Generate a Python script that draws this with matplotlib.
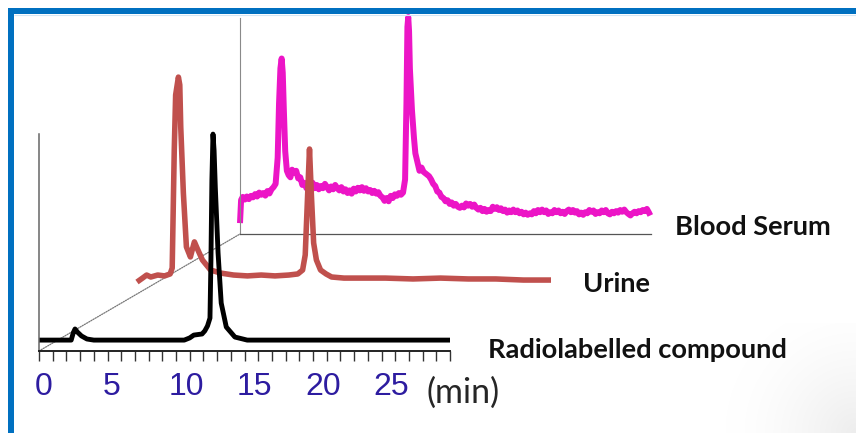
import numpy as np
import matplotlib
matplotlib.use("Agg")
import matplotlib.pyplot as plt
from matplotlib.patches import ConnectionPatch
from matplotlib.lines import Line2D
from matplotlib.transforms import blended_transform_factory, offset_copy

# ---------------- data (time in min, signal in arbitrary units) ----------------
t_cmp = [0, 2.35, 2.5, 2.63, 2.8, 3.1, 3.5, 4.0, 10.6, 11.0, 11.3, 11.9, 12.1, 12.3,
         12.48, 12.55, 12.62, 12.7, 12.78, 12.87, 13.07, 13.3, 13.67, 14.3, 15.2, 30]
v_cmp = [5.0, 5.0, 8.3, 10.1, 8.7, 6.9, 5.5, 5.0, 5.0, 6.0, 7.3, 7.8, 9.2, 11.5,
         15.1, 41.7, 78.4, 99.5, 92.0, 75.0, 45.0, 22.0, 11.0, 6.4, 5.0, 5.0]

t_uri = [0, 0.4, 0.7, 1.0, 1.5, 2.0, 2.4, 2.55, 2.7, 2.8, 3.0, 3.1, 3.17, 3.36, 3.58,
         3.87, 4.0, 4.16, 4.35, 4.74, 5.33, 6.06, 7.0, 8.0, 9.0, 10.0, 11.0, 11.65,
         12.0, 12.19, 12.37, 12.5, 12.63, 12.8, 13.0, 13.3, 13.7, 14.1, 15.0, 16.0,
         18.0, 20.0, 22.0, 24.0, 26.0, 28.0, 30.0]
v_uri = [5.5, 7.3, 8.7, 7.8, 8.7, 8.3, 9.2, 11.9, 66.1, 91.3, 99.5, 95.9, 76.6, 46.3,
         21.6, 17.0, 20.2, 23.9, 21.1, 15.6, 11.0, 9.6, 8.7, 8.3, 8.7, 8.3, 8.7, 9.2,
         11.0, 17.9, 46.3, 66.5, 46.3, 23.4, 15.6, 11.0, 9.2, 7.8, 7.3, 7.3, 7.3, 6.9,
         7.3, 6.9, 6.9, 6.4, 6.4]

t_ser = [0, 0.08, 0.2, 0.35, 0.5, 0.65, 0.8, 0.95, 1.1, 1.25, 1.4, 1.55, 1.7, 1.85,
         2.0, 2.15, 2.3, 2.45, 2.6, 2.75, 2.85, 2.95, 3.04, 3.12, 3.2, 3.3, 3.42, 3.55,
         3.68, 3.8, 3.95, 4.1, 4.25, 4.4, 4.55, 4.7, 4.85, 5.0, 5.15, 5.3, 5.45, 5.6,
         5.75, 5.9, 6.05, 6.2, 6.35, 6.5, 6.65, 6.8, 6.95, 7.1, 7.25, 7.4, 7.55, 7.7,
         7.85, 8.0, 8.15, 8.3, 8.45, 8.6, 8.75, 8.9, 9.05, 9.2, 9.35, 9.5, 9.65, 9.8,
         9.95, 10.1, 10.25, 10.4, 10.55, 10.7, 10.85, 11.0, 11.15, 11.3, 11.45, 11.6,
         11.75, 11.9, 12.05, 12.15, 12.22, 12.28, 12.34, 12.4, 12.55, 12.7, 12.8,
         12.95, 13.1, 13.25, 13.4, 13.6, 13.8, 13.95, 14.1, 14.25, 14.4, 14.55, 14.7,
         14.85, 15.0, 15.15, 15.3, 15.45, 15.6, 15.75, 15.9, 16.05, 16.2, 16.35, 16.5,
         16.65, 16.8, 16.95, 17.1, 17.25, 17.4, 17.55, 17.7, 17.85, 18.0, 18.15, 18.3,
         18.45, 18.6, 18.75, 18.9, 19.05, 19.2, 19.35, 19.5, 19.65, 19.8, 19.95, 20.1,
         20.25, 20.4, 20.55, 20.7, 20.85, 21.0, 21.15, 21.3, 21.45, 21.6, 21.75, 21.9,
         22.05, 22.2, 22.35, 22.5, 22.65, 22.8, 22.95, 23.1, 23.25, 23.4, 23.55, 23.7,
         23.85, 24.0, 24.15, 24.3, 24.45, 24.6, 24.75, 24.9, 25.05, 25.2, 25.35, 25.5,
         25.65, 25.8, 25.95, 26.1, 26.25, 26.4, 26.55, 26.7, 26.85, 27.0, 27.15, 27.3,
         27.45, 27.6, 27.75, 27.9, 28.05, 28.2, 28.35, 28.5, 28.65, 28.8, 28.95, 29.1,
         29.25, 29.4, 29.55, 29.7, 29.85, 29.95]
v_ser = [5.0, 15.6, 17.0, 15.8, 17.2, 16.0, 17.5, 16.8, 18.3, 17.2, 19.0, 18.0, 18.8,
         17.6, 19.7, 18.6, 20.5, 21.5, 23.0, 35.0, 60.0, 76.0, 80.5, 74.0, 57.0, 38.0,
         29.0, 27.0, 26.0, 29.5, 28.0, 29.0, 25.5, 26.0, 22.5, 23.5, 21.0, 22.8, 21.5,
         23.5, 21.0, 22.5, 20.5, 22.0, 21.0, 23.0, 21.5, 20.0, 21.8, 20.5, 22.5, 21.0,
         20.0, 21.5, 19.5, 20.5, 18.8, 20.0, 18.5, 20.8, 19.5, 21.2, 20.0, 21.5, 19.8,
         21.0, 19.5, 20.2, 18.8, 19.8, 18.5, 19.2, 17.5, 16.8, 15.2, 16.5, 15.0, 17.5,
         16.5, 18.2, 17.5, 18.8, 18.0, 19.0, 25.0, 60.0, 95.0, 99.5, 93.0, 76.0, 57.0,
         44.0, 37.0, 33.0, 29.0, 30.5, 28.5, 27.5, 26.5, 25.0, 23.0, 22.0, 19.5, 19.0,
         17.0, 16.5, 15.0, 15.5, 13.8, 14.5, 13.0, 13.8, 12.5, 12.0, 13.0, 12.2, 14.0,
         13.0, 13.8, 12.5, 13.5, 12.0, 11.2, 12.0, 10.5, 11.5, 10.2, 11.0, 10.5, 12.5,
         11.5, 12.3, 11.0, 11.8, 10.5, 11.2, 9.8, 10.8, 10.0, 11.2, 10.0, 10.8, 9.5,
         10.2, 9.0, 9.8, 8.8, 9.5, 9.0, 10.5, 9.5, 11.0, 10.0, 11.2, 10.0, 10.8, 9.2,
         10.0, 9.5, 11.0, 10.0, 10.8, 9.5, 10.2, 9.2, 10.5, 11.2, 10.0, 11.0, 9.8, 10.5,
         9.0, 9.8, 8.8, 10.0, 9.5, 11.0, 10.2, 10.8, 9.2, 10.0, 9.5, 10.8, 10.0, 11.0,
         9.5, 9.0, 10.2, 9.5, 10.5, 9.8, 11.0, 10.2, 11.2, 10.0, 9.2, 8.5, 9.5, 10.2,
         9.5, 10.5, 10.0, 11.0, 10.5, 11.5, 9.8, 8.5]

tick_major = [0, 5, 10, 15, 20, 25, 30]
tick_labels = ["0", "5", "10", "15", "20", "25"]
trace_names = ["Radiolabelled compound", "Urine", "Blood Serum"]

# ---------------- figure ----------------
W, H = 856, 433
fig = plt.figure(figsize=(W / 100, H / 100), dpi=100)
fig.patch.set_facecolor("white")
PXU = 2.18  # pixels per signal unit

# faint slide shadow in the lower-right corner
gw, gh = 140, 110
gx, gy = np.meshgrid(np.arange(gw), np.arange(gh))
dist = np.hypot(gw - 1 - gx, gy) / 130.0  # row 0 = bottom of figure
shade = 1.0 - 0.07 * np.clip(1 - dist, 0, 1) ** 1.5
fig.figimage(np.dstack([shade] * 3), xo=W - gw, yo=0, origin="lower", zorder=-5)


def ax_px(l, r, b, t):
    return fig.add_axes([l / W, 1 - b / H, (r - l) / W, (b - t) / H])


ax_s = ax_px(240, 651, 234, 18)
ax_u = ax_px(137, 551, 294, 74)
ax_c = ax_px(39, 450, 351, 134)

for ax, top in ((ax_s, 216), (ax_u, 220), (ax_c, 217)):
    ax.set_xlim(0, 30)
    ax.set_ylim(0, top / PXU)
    ax.patch.set_visible(False)
    ax.set_yticks([])
    for sp in ("top", "right"):
        ax.spines[sp].set_visible(False)

# serum axes
ax_s.set_xticks([])
ax_s.spines["left"].set_color("#8a8a8a")
ax_s.spines["left"].set_linewidth(0.8)
ax_s.spines["bottom"].set_color("#555555")
ax_s.spines["bottom"].set_linewidth(0.9)
ax_s.spines["bottom"].set_linestyle((0, (1, 1)))
ax_s.plot(t_ser, v_ser, color="#ec15c6", lw=4.3, solid_joinstyle="round",
          solid_capstyle="butt", clip_on=False)

# urine axes
ax_u.set_xticks([])
ax_u.spines["left"].set_visible(False)
ax_u.spines["bottom"].set_visible(False)
ax_u.plot(t_uri, v_uri, color="#c0504d", lw=4.0, solid_joinstyle="round",
          solid_capstyle="butt", clip_on=False)

# compound axes
ax_c.spines["left"].set_color("#666666")
ax_c.spines["left"].set_linewidth(1.1)
ax_c.spines["bottom"].set_color("#222222")
ax_c.spines["bottom"].set_linewidth(1.4)
ax_c.set_xticks(tick_major)
ax_c.set_xticklabels([])
ax_c.set_xticks(np.arange(0, 31, 1), minor=True)
ax_c.tick_params(axis="x", which="both", direction="out", length=7.5, width=1.0,
                 color="#333333")
ax_c.plot(t_cmp, v_cmp, color="#000000", lw=3.5, solid_joinstyle="round",
          solid_capstyle="butt", clip_on=False)

# tick labels
blend = blended_transform_factory(ax_c.transData, ax_c.transAxes)
for val, lab in zip(tick_major, tick_labels):
    dx = 4.5 if len(lab) == 1 else 10
    tr = offset_copy(blend, fig=fig, x=dx, y=-44, units="dots")
    ax_c.text(val, 0, lab, transform=tr, ha="center", va="baseline",
              fontsize=23, color="#2d1ca0", family="Liberation Sans")
ax_c.text(1.0, 0, "(min)", transform=offset_copy(ax_c.transAxes, fig=fig, x=-23, y=-52,
                                                  units="dots"),
          ha="left", va="baseline", fontsize=24.5, color="#262626", family="Lato")

# diagonal perspective line
con = ConnectionPatch(xyA=(0, 0), coordsA=ax_c.transAxes, xyB=(0, 0),
                      coordsB=ax_s.transAxes, color="#777777", lw=0.9,
                      linestyle=(0, (1, 1)))
con.set_zorder(0)
fig.add_artist(con)

# trace names
name_pos = [(488, 358), (583, 292), (675, 235)]
for name, (px, py) in zip(trace_names, name_pos):
    fig.text(px / W, 1 - py / H, name, ha="left", va="baseline", fontsize=19.6,
             fontweight="bold", color="#111111", family="Lato")

# blue frame
fig.add_artist(Line2D([8 / W, 1], [1 - 11 / H, 1 - 11 / H], color="#0070c0",
                      lw=6 * 0.72, solid_capstyle="butt"))
fig.add_artist(Line2D([11 / W, 11 / W], [1 - 8 / H, 0], color="#0070c0",
                      lw=6 * 0.72, solid_capstyle="butt"))
fig.add_artist(Line2D([14 / W, 1], [1 - 14.8 / H, 1 - 14.8 / H], color="#d3e6f5",
                      lw=0.8, solid_capstyle="butt"))

fig.savefig("out.png", dpi=100, facecolor="white")
